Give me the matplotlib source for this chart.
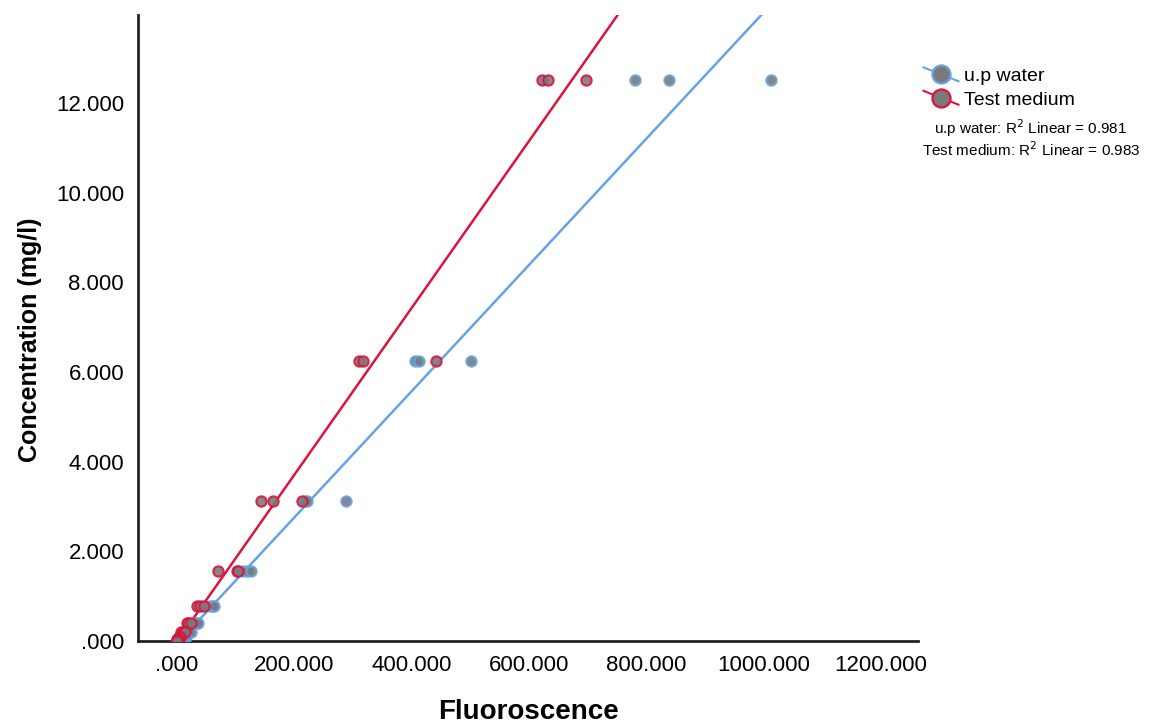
import matplotlib
matplotlib.use("Agg")
import matplotlib.pyplot as plt
import numpy as np
from matplotlib.legend_handler import HandlerBase
from matplotlib.lines import Line2D

# 농도 단계 (mg/l), 각 단계 3반복
conc_levels = [12.5, 6.25, 3.125, 1.5625, 0.78125, 0.390625, 0.1953125, 0.09765625, 0.048828125, 0.0]

# u.p water 형광값
up_water_fl = [
    [780, 838, 1012],
    [406, 413, 502],
    [218, 222, 289],
    [113, 120, 127],
    [57, 61, 63],
    [30, 34, 36],
    [16, 20, 25],
    [10, 13, 16],
    [6, 8, 10],
    [3, 4, 5],
]

# Test medium 형광값
test_medium_fl = [
    [622, 633, 698],
    [310, 317, 442],
    [144, 164, 214],
    [70, 102, 105],
    [34, 40, 47],
    [17, 20, 25],
    [8, 11, 14],
    [4, 5, 6],
    [1, 2, 3],
    [0, 0, 1],
]

r2_labels = ["u.p water: R$^2$ Linear = 0.981", "Test medium: R$^2$ Linear = 0.983"]
x_ticks = [0, 200, 400, 600, 800, 1000, 1200]
y_ticks = [0, 2, 4, 6, 8, 10, 12]

COLOR_UP = "#65A3E6"
COLOR_TM = "#DC143C"
FILL = "#7A7A7A"

plt.rcParams["font.family"] = ["Liberation Sans", "DejaVu Sans"]


def _flatten(fl):
    xs, ys = [], []
    for c, row in zip(conc_levels, fl):
        for v in row:
            xs.append(v)
            ys.append(c)
    return np.array(xs, float), np.array(ys, float)


def _fmt(v):
    s = f"{v:.3f}"
    return s[1:] if v == 0 else s


class DiagHandler(HandlerBase):
    # SPSS 스타일 범례: 대각선 + 원형 마커
    def create_artists(self, legend, orig_handle, xdescent, ydescent,
                       width, height, fontsize, trans):
        col = orig_handle.get_color()
        cy = height / 2 - ydescent
        ln = Line2D([-xdescent, width - xdescent], [cy + 5, cy - 5],
                    color=col, lw=1.5, transform=trans)
        mk = Line2D([width / 2 - xdescent], [cy], marker="o",
                    markersize=13, markerfacecolor=FILL, markeredgecolor=col,
                    markeredgewidth=1.6, linestyle="none", transform=trans)
        return [ln, mk]


fig = plt.figure(figsize=(11.49, 7.26), dpi=100)
ax = fig.add_axes([138 / 1149, 1 - 641 / 726, (918 - 138) / 1149, (641 - 15) / 726])

xlim = (-66, 1263)
handles = []
for fl, col, name in [(up_water_fl, COLOR_UP, "u.p water"),
                      (test_medium_fl, COLOR_TM, "Test medium")]:
    x, y = _flatten(fl)
    ax.scatter(x, y, s=55, facecolor=FILL, edgecolor=col, linewidth=1.5,
               alpha=0.9, zorder=3)
    slope, icpt = np.polyfit(x, y, 1)
    xx = np.array(xlim)
    ax.plot(xx, slope * xx + icpt, color=col, lw=1.8, zorder=2)
    handles.append(Line2D([], [], color=col, label=name))

ax.set_xlim(*xlim)
ax.set_ylim(0, 13.96)
ax.set_xticks(x_ticks)
ax.set_xticklabels([_fmt(v) for v in x_ticks], fontsize=16)
ax.set_yticks(y_ticks)
ax.set_yticklabels([_fmt(v) for v in y_ticks], fontsize=16)
ax.tick_params(length=0, pad=10)
ax.spines[["top", "right"]].set_visible(False)
for s in ["left", "bottom"]:
    ax.spines[s].set_linewidth(2)
    ax.spines[s].set_color("#222222")

fig.text(529 / 1149, 1 - 712 / 726, "Fluoroscence", ha="center", va="center",
         fontsize=20, fontweight="bold")
fig.text(30 / 1149, 1 - 340 / 726, "Concentration (mg/l)", ha="center", va="center",
         rotation=90, fontsize=18, fontweight="bold")

fig.legend(handles=handles, loc="upper left", bbox_to_anchor=(906 / 1149, 1 - 50 / 726),
           frameon=False, fontsize=14, handlelength=1.8, handletextpad=0.3,
           labelspacing=0.3, handler_map={Line2D: DiagHandler()})
for i, t in enumerate(r2_labels):
    fig.text(1031 / 1149, 1 - (128 + 22 * i) / 726, t, ha="center", va="center",
             fontsize=11)

fig.savefig("out.png", dpi=100)
